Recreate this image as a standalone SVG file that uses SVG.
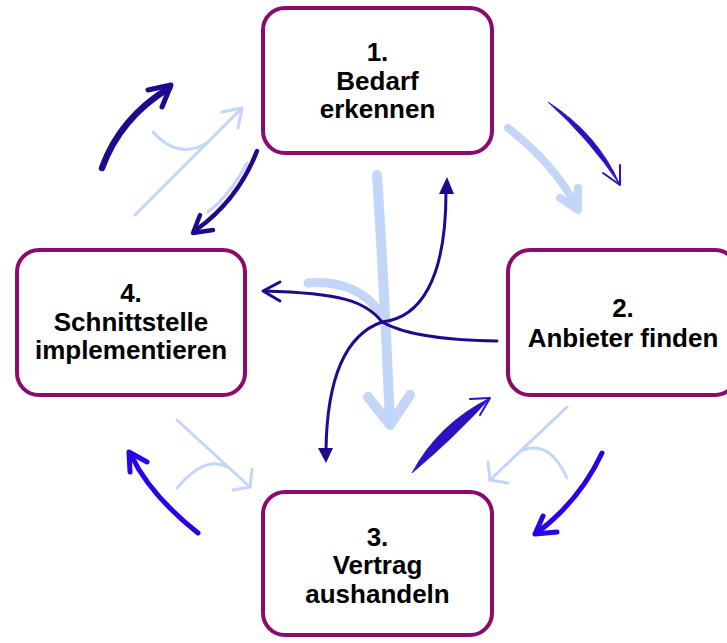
<svg xmlns="http://www.w3.org/2000/svg" width="727" height="643" viewBox="0 0 727 643">
<style>
.box{fill:#fff;stroke:#8b0a6c;stroke-width:4}
.lbl{font-family:"Liberation Sans",Arial,sans-serif;font-weight:bold;font-size:26px;fill:#000;text-anchor:middle}
.navy{fill:none;stroke:#1f0a8e;stroke-linecap:round;stroke-linejoin:round}
.bright{fill:none;stroke:#2a00e6;stroke-linecap:round;stroke-linejoin:round}
.tap{fill:#2a12c4;stroke:#2a12c4;stroke-width:0.8}
.tapl{fill:none;stroke:#2a12c4;stroke-width:2;stroke-linecap:round;stroke-linejoin:round}
.light{fill:none;stroke:#c3d6fa;stroke-linecap:round;stroke-linejoin:round}
.tri{fill:#1f0a8e}
</style>
<rect width="727" height="643" fill="#fff"/>
<g id="connectors">
  <!-- top-left -->
  <path class="navy" d="M102,168 Q120,118 169,88" stroke-width="6.5"/>
  <path class="navy" d="M148,90 L171,85 L162,107" stroke-width="5"/>
  <path class="light" d="M135,215 L242,108" stroke-width="3"/>
  <path class="light" d="M222,112 L242,108 L238,128" stroke-width="3"/>
  <path class="light" d="M153,132 Q178,160 207,143" stroke-width="3"/>
  <path class="light" d="M247,163 Q230,195 208,212" stroke-width="3"/>
  <path class="navy" d="M257,151 Q238,200 196,230" stroke-width="4.5"/>
  <path class="navy" d="M200,215 L193,233 L213,230" stroke-width="4.5"/>
  <!-- top-right -->
  <path class="light" d="M508,128 Q555,165 576,206" stroke-width="8"/>
  <path class="light" d="M560,198 L578,210 L578,188" stroke-width="8"/>
  <path class="tap" d="M548,102 Q598,134 620,185 Q590,140 548,102 Z"/>
  <path class="tapl" d="M603,173 L620,185 L620,165"/>
  <!-- center -->
  <path class="light" d="M377,175 Q385,300 390,423" stroke-width="10"/>
  <path class="light" d="M368,397 L390,425 L410,395" stroke-width="10"/>
  <path class="light" d="M308,283 C338,280 370,290 385,322" stroke-width="9"/>
  <path class="navy" d="M382,322 C420,318 446,280 446,192" stroke-width="3"/>
  <path class="tri" d="M447,177 L439,194 L454,194 Z"/>
  <path class="navy" d="M382,322 C400,332 430,340 497,341" stroke-width="3"/>
  <path class="navy" d="M382,322 C366,301 340,293 264,291" stroke-width="3"/>
  <path class="navy" d="M280,282 L263,291 L280,301" stroke-width="3"/>
  <path class="navy" d="M382,322 C345,335 327,380 326,450" stroke-width="3"/>
  <path class="tri" d="M326,463 L318,448 L333,448 Z"/>
  <!-- bottom-left -->
  <path class="bright" d="M198,533 Q150,495 131,455" stroke-width="5"/>
  <path class="bright" d="M130,472 L129,452 L147,462" stroke-width="5"/>
  <path class="light" d="M177,420 L250,487" stroke-width="3"/>
  <path class="light" d="M252,469 L250,487 L233,490" stroke-width="3"/>
  <path class="light" d="M177,488 Q205,455 227,467" stroke-width="3"/>
  <!-- bottom-right -->
  <path class="tap" d="M412,473 Q438,424 490,398 Q456,436 412,473 Z"/>
  <path class="tapl" d="M470,399 L490,398 L480,415"/>
  <path class="light" d="M567,407 L490,480" stroke-width="3"/>
  <path class="light" d="M488,462 L490,480 L508,483" stroke-width="3"/>
  <path class="light" d="M567,478 Q550,440 523,450" stroke-width="3"/>
  <path class="bright" d="M602,453 Q580,500 538,532" stroke-width="5"/>
  <path class="bright" d="M543,516 L535,534 L557,532" stroke-width="5"/>
</g>
<g id="node1">
  <rect class="box" x="263" y="8" width="229" height="145" rx="22"/>
  <text class="lbl" x="377.5" y="61">1.</text>
  <text class="lbl" x="377.5" y="90">Bedarf</text>
  <text class="lbl" x="377.5" y="118">erkennen</text>
</g>
<g id="node2">
  <rect class="box" x="508" y="250" width="229" height="145" rx="22"/>
  <text class="lbl" x="623" y="317">2.</text>
  <text class="lbl" x="623" y="347">Anbieter finden</text>
</g>
<g id="node3">
  <rect class="box" x="263" y="492" width="229" height="143" rx="22"/>
  <text class="lbl" x="377.5" y="546">3.</text>
  <text class="lbl" x="377.5" y="574">Vertrag</text>
  <text class="lbl" x="377.5" y="603">aushandeln</text>
</g>
<g id="node4">
  <rect class="box" x="17" y="250" width="228" height="145" rx="22"/>
  <text class="lbl" x="131" y="302">4.</text>
  <text class="lbl" x="131" y="331">Schnittstelle</text>
  <text class="lbl" x="131" y="359">implementieren</text>
</g>
</svg>
